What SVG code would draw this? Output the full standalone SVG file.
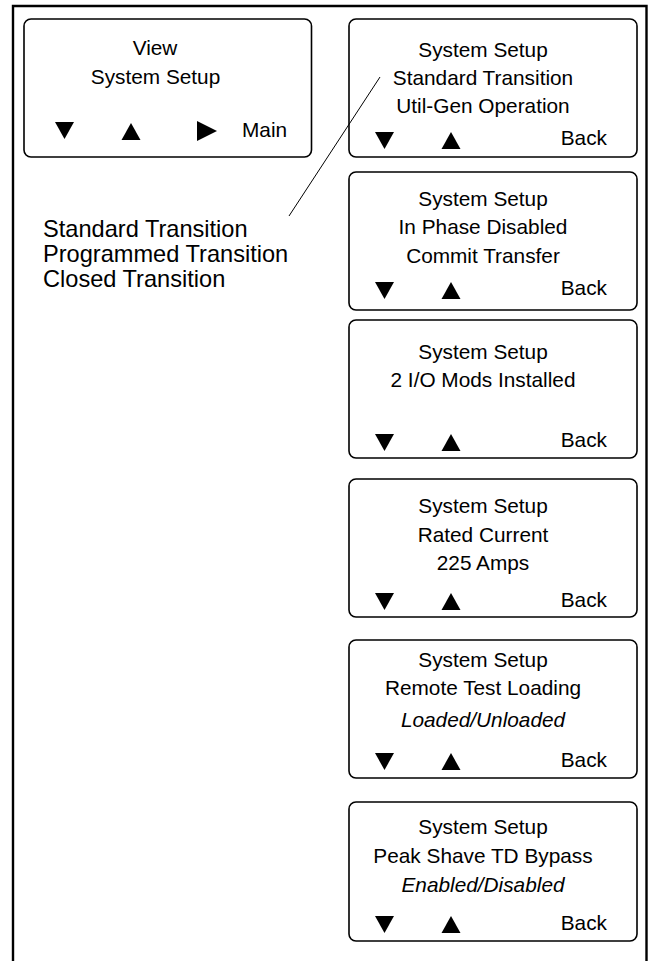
<svg xmlns="http://www.w3.org/2000/svg" width="652" height="961" viewBox="0 0 652 961">
<style>
.box{fill:#fff;stroke:#000;stroke-width:1.6}
text{font-family:"Liberation Sans",Arial,sans-serif;font-size:20.8px;fill:#000}
.c{text-anchor:middle}
.e{text-anchor:end}
.i{font-style:italic}
.big{font-size:23.6px}
.tri{fill:#000}
</style>
<defs>
<path id="dn" d="M0,0 H19 L9.5,17 Z"/>
<path id="up" d="M9.5,0 L19,17 H0 Z"/>
<path id="rt" d="M0,0 L20,10 L0,20 Z"/>
</defs>
<rect width="652" height="961" fill="#fff"/>
<path d="M13,970 V6 H646.5 V970" fill="none" stroke="#000" stroke-width="2.4"/>

<g id="view">
<rect class="box" x="24" y="19" width="287.5" height="138" rx="7"/>
<text class="c" x="155" y="55">View</text>
<text class="c" x="155.5" y="84">System Setup</text>
<use href="#dn" class="tri" x="55" y="122"/>
<use href="#up" class="tri" x="121.5" y="123"/>
<use href="#rt" class="tri" x="197" y="121"/>
<text x="242" y="137">Main</text>
</g>

<g id="options">
<text class="big" x="43" y="237">Standard Transition</text>
<text class="big" x="43" y="262">Programmed Transition</text>
<text class="big" x="43" y="287">Closed Transition</text>
</g>

<g id="s1">
<rect class="box" x="349" y="19" width="288" height="138" rx="7"/>
<text class="c" x="483" y="57">System Setup</text>
<text class="c" x="483" y="85">Standard Transition</text>
<text class="c" x="483" y="113">Util-Gen Operation</text>
<use href="#dn" class="tri" x="375" y="132"/>
<use href="#up" class="tri" x="441.5" y="132"/>
<text class="e" x="607" y="145">Back</text>
</g>

<g id="s2">
<rect class="box" x="349" y="172" width="288" height="138" rx="7"/>
<text class="c" x="483" y="206">System Setup</text>
<text class="c" x="483" y="234">In Phase Disabled</text>
<text class="c" x="483" y="263">Commit Transfer</text>
<use href="#dn" class="tri" x="375" y="282"/>
<use href="#up" class="tri" x="441.5" y="282"/>
<text class="e" x="607" y="295">Back</text>
</g>

<g id="s3">
<rect class="box" x="349" y="320" width="288" height="138" rx="7"/>
<text class="c" x="483" y="359">System Setup</text>
<text class="c" x="483" y="387">2 I/O Mods Installed</text>
<use href="#dn" class="tri" x="375" y="434"/>
<use href="#up" class="tri" x="441.5" y="434"/>
<text class="e" x="607" y="447">Back</text>
</g>

<g id="s4">
<rect class="box" x="349" y="479" width="288" height="138" rx="7"/>
<text class="c" x="483" y="513">System Setup</text>
<text class="c" x="483" y="542">Rated Current</text>
<text class="c" x="483" y="570">225 Amps</text>
<use href="#dn" class="tri" x="375" y="593"/>
<use href="#up" class="tri" x="441.5" y="593"/>
<text class="e" x="607" y="607">Back</text>
</g>

<g id="s5">
<rect class="box" x="349" y="640" width="288" height="138" rx="7"/>
<text class="c" x="483" y="667">System Setup</text>
<text class="c" x="483" y="695">Remote Test Loading</text>
<text class="c i" x="483" y="727">Loaded/Unloaded</text>
<use href="#dn" class="tri" x="375" y="753"/>
<use href="#up" class="tri" x="441.5" y="753"/>
<text class="e" x="607" y="767">Back</text>
</g>

<g id="s6">
<rect class="box" x="349" y="802" width="288" height="139" rx="7"/>
<text class="c" x="483" y="834">System Setup</text>
<text class="c" x="483" y="863">Peak Shave TD Bypass</text>
<text class="c i" x="483" y="892">Enabled/Disabled</text>
<use href="#dn" class="tri" x="375" y="916"/>
<use href="#up" class="tri" x="441.5" y="916"/>
<text class="e" x="607" y="930">Back</text>
</g>

<g id="connectors">
<line x1="380" y1="77" x2="289" y2="216" stroke="#000" stroke-width="1"/>
</g>
</svg>
